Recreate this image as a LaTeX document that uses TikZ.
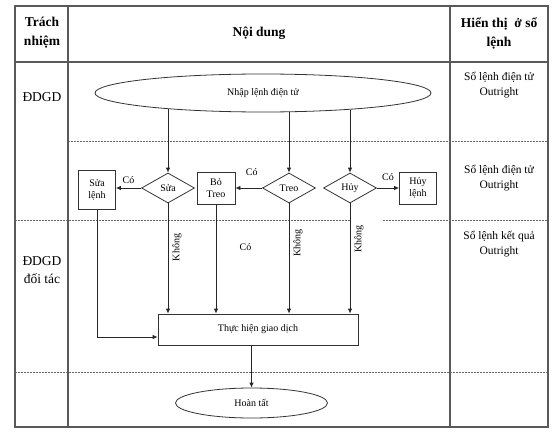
\documentclass[tikz,border=0pt]{standalone}
\usepackage{fontspec}
\setmainfont{Liberation Serif}
\usetikzlibrary{arrows.meta, positioning, shapes.geometric, calc}

\begin{document}
\begin{tikzpicture}[x=1pt, y=-1pt, >={Latex[length=5pt, width=4.5pt]}, on grid,
    txt/.style={font=\fontsize{10}{12}\selectfont},
    flowbox/.style={draw=black!80, rectangle, align=center, inner sep=1pt, line width=0.8pt, txt},
    oval/.style={draw=black!80, ellipse, inner sep=0pt, line width=0.8pt, txt},
    choice/.style={draw=black!80, diamond, aspect=1.8, inner sep=0pt, minimum width=53pt, minimum height=30pt, line width=0.8pt, txt},
    flow/.style={->, draw=black!85, line width=0.8pt},
    grid/.style={draw=black!65, line width=1.2pt},
    sep/.style={draw=black!60, line width=0.6pt, dash pattern=on 2pt off 1pt},
    head/.style={font=\fontsize{13.5}{19}\selectfont\bfseries, align=center},
    side/.style={font=\fontsize{11.5}{15}\selectfont, align=center},
    no/.style={txt, rotate=90, anchor=north, inner sep=4pt}]

    \useasboundingbox (0,0) rectangle (553,433);

    % Table frame
    \draw[grid] (15,6) rectangle (548,427);
    \draw[grid] (68,6) -- (68,427);
    \draw[grid] (450,6) -- (450,427);
    \draw[grid] (15,62) -- (548,62);
    \draw[sep] (68,141) -- (548,141);
    \draw[sep] (15,220) -- (350,220);
    \draw[sep] (383,220) -- (548,220);
    \draw[sep] (15,372) -- (548,372);

    % Headings and side texts
    \node (hresp) [head] at (42,33) {Trách\\nhiệm};
    \node (hcont) [head] at (259,33) {Nội dung};
    \node (hshow) [head] at (499,33) {Hiển thị~ ở sổ\\lệnh};
    \node (resp1) [font=\fontsize{13.5}{18}\selectfont] at (42,97) {ĐDGD};
    \node (resp2) [font=\fontsize{13.5}{18}\selectfont, align=center] at (42,270) {ĐDGD\\đối tác};
    \node (show1) [side] at (499,85.5) {Sổ lệnh điện tử\\Outright};
    \node (show2) [side] at (499,178.5) {Sổ lệnh điện tử\\Outright};
    \node (show3) [side] at (499,244.5) {Sổ lệnh kết quả\\Outright};

    % Nodes of the flow
    \node (nhap) [oval, minimum width=336pt, minimum height=38pt] at (263,93) {Nhập lệnh điện tử};
    \node (sua) [choice] at (168,188) {Sửa};
    \node (treo) [choice] at (289,188) {Treo};
    \node (huy) [choice] at (350,188) {Hủy};
    \node (suale) [flowbox, minimum width=37pt, minimum height=39pt, left=71pt of sua, yshift=-2pt] {Sửa\\lệnh};
    \node (botreo) [flowbox, minimum width=38pt, minimum height=32pt, left=73pt of treo] {Bỏ\\Treo};
    \node (huyle) [flowbox, minimum width=37pt, minimum height=32pt, right=68pt of huy] {Hủy\\lệnh};
    \node (thuchien) [flowbox, minimum width=200pt, minimum height=31pt] at (258,329.5) {Thực hiện giao dịch};
    \node (hoantat) [oval, minimum width=152pt, minimum height=30pt, below=73.5pt of thuchien, xshift=-6.5pt] {Hoàn tất};

    % Edges of the flow
    \draw[flow] (sua.north |- nhap.189.37) -- (sua.north);
    \draw[flow] (treo.north |- nhap.324.17) -- (treo.north);
    \draw[flow] (huy.north |- nhap.349.42) -- (huy.north);
    \draw[flow] (sua.west) -- (sua.west -| suale.east) node[midway, above=1pt, txt] {Có};
    \draw[flow] (treo.west) -- (treo.west -| botreo.east) node[midway, above=9pt, xshift=3pt, txt] {Có};
    \draw[flow] (huy.east) -- (huy.east -| huyle.west) node[midway, above=4pt, txt] {Có};
    \draw[flow] (sua.south) -- (sua.south |- thuchien.north) node[no, pos=0.4] {Không};
    \draw[flow] (botreo.south) -- (botreo.south |- thuchien.north) node[txt, pos=0.39, right=20pt] {Có};
    \draw[flow] (treo.south) -- (treo.south |- thuchien.north) node[no, pos=0.36] {Không};
    \draw[flow] (huy.south) -- (huy.south |- thuchien.north) node[no, pos=0.32] {Không};
    \draw[flow] (suale.south) |- ($(thuchien.west)+(0,7.5)$);
    \draw[flow] (thuchien.south -| hoantat.north) -- (hoantat.north);

\end{tikzpicture}
\end{document}
